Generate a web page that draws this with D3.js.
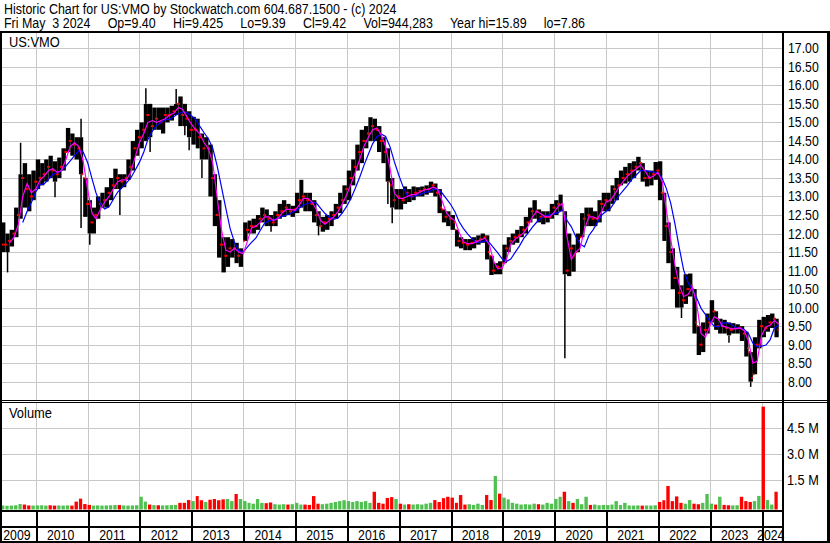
<!DOCTYPE html>
<html>
<head>
<meta charset="utf-8">
<script src="https://cdn.jsdelivr.net/npm/d3@7"></script>
<style>
body { margin: 0; background: #fff; }
svg { display: block; font-family: "Liberation Sans", Arial, sans-serif; }
</style>
</head>
<body>
<svg id="canvas" width="830" height="543"></svg>
<script>
// monthly bars, May 2009 .. Apr 2024 (bulk of the daily range)
let hi = [
    12.3, 12.0, 12.1, 12.7, 13.6, 13.9, 13.6, 13.7,
    14.0, 13.9, 14.0, 14.1, 13.95, 14.05, 14.3, 14.85, 14.7, 14.6, 14.6, 13.5,
    12.9, 12.7, 13.0, 13.1, 13.25, 13.5, 13.75, 13.6, 13.6, 14.0, 14.5, 14.8,
    15.0, 15.5, 15.5, 15.4, 15.4, 15.4, 15.4, 15.45, 15.5, 15.7, 15.5, 15.3,
    15.15, 15.1, 14.7, 14.6, 14.4, 13.6, 12.9, 11.9, 11.9, 11.85, 11.75, 11.6,
    12.3, 12.35, 12.4, 12.5, 12.7, 12.65, 12.5, 12.6, 12.8, 12.9, 12.8, 12.75,
    13.1, 13.45, 13.1, 13.1, 12.9, 12.6, 12.45, 12.5, 12.6, 12.8, 13.1, 13.3,
    13.7, 14.0, 14.4, 14.8, 14.9, 15.14, 15.1, 14.9, 14.6, 14.3, 13.5, 13.2,
    13.2, 13.27, 13.2, 13.27, 13.25, 13.27, 13.3, 13.4, 13.35, 13.2, 12.65, 12.6,
    12.5, 12.1, 11.9, 11.85, 11.85, 11.9, 11.95, 12.0, 11.95, 11.4, 11.2, 11.25,
    11.7, 11.9, 12.0, 12.1, 12.2, 12.45, 12.7, 12.9, 12.65, 12.6, 12.6, 12.8,
    12.9, 13.05, 12.6, 12.0, 11.7, 12.0, 12.55, 12.7, 12.7, 12.6, 12.9, 13.1,
    13.1, 13.3, 13.5, 13.7, 13.8, 13.9, 13.95, 14.07, 13.9, 13.7, 13.7, 13.93,
    13.95, 13.1, 12.3, 11.6, 11.1, 10.6, 10.9, 10.92, 10.5, 9.5, 9.6, 9.84,
    10.2, 9.9, 9.7, 9.67, 9.6, 9.58, 9.55, 9.5, 9.35, 8.8, 9.2, 9.67,
    9.75, 9.8, 9.84, 9.7
]
let lo = [
    11.5, 11.5, 11.65, 11.9, 12.4, 12.7, 12.6, 12.9,
    13.2, 13.3, 13.4, 13.5, 13.4, 13.5, 13.7, 14.2, 14.1, 14.0, 13.6, 12.45,
    12.0, 12.0, 12.4, 12.7, 12.7, 12.9, 13.2, 13.2, 13.25, 13.45, 13.7, 14.1,
    14.3, 14.5, 14.6, 14.8, 14.8, 14.7, 15.0, 15.05, 15.2, 14.9, 14.9, 14.6,
    14.4, 14.3, 14.0, 14.0, 13.0, 12.2, 11.35, 10.95, 11.1, 11.35, 11.2, 11.1,
    11.8, 12.0, 12.0, 12.1, 12.3, 12.2, 12.2, 12.2, 12.4, 12.45, 12.5, 12.45,
    12.55, 12.7, 12.6, 12.6, 12.3, 12.2, 12.05, 12.1, 12.2, 12.4, 12.55, 12.8,
    12.9, 13.3, 13.7, 13.9, 14.3, 14.5, 14.5, 14.2, 13.9, 13.4, 12.7, 12.65,
    12.65, 12.8, 12.85, 12.9, 13.0, 13.0, 13.05, 13.1, 13.0, 12.55, 12.3, 12.2,
    12.1, 11.65, 11.6, 11.55, 11.55, 11.6, 11.7, 11.75, 11.3, 10.88, 10.9, 10.9,
    11.2, 11.5, 11.7, 11.75, 11.9, 12.0, 12.3, 12.4, 12.3, 12.25, 12.3, 12.4,
    12.5, 12.6, 10.9, 10.85, 10.97, 11.5, 11.9, 12.2, 12.2, 12.2, 12.3, 12.6,
    12.6, 12.8, 12.9, 13.3, 13.35, 13.4, 13.5, 13.7, 13.4, 13.27, 13.3, 13.45,
    12.9, 11.8, 11.2, 10.5, 10.0, 10.0, 10.1, 10.3, 9.3, 8.72, 8.8, 9.3,
    9.6, 9.4, 9.3, 9.3, 9.25, 9.3, 9.3, 9.1, 8.68, 8.0, 8.2, 8.9,
    9.2, 9.35, 9.45, 9.2
]
let cl = [
    11.7, 11.8, 12.0, 12.5, 13.5, 13.2, 13.0, 13.4,
    13.5, 13.6, 13.8, 13.7, 13.6, 13.8, 14.2, 14.5, 14.4, 14.3, 13.6, 12.8,
    12.3, 12.5, 12.8, 12.9, 13.1, 13.3, 13.5, 13.4, 13.5, 13.8, 14.3, 14.6,
    14.8, 15.2, 14.9, 15.1, 15.0, 15.2, 15.2, 15.3, 15.5, 15.2, 15.1, 14.8,
    14.8, 14.6, 14.3, 14.3, 13.5, 12.5, 11.7, 11.4, 11.6, 11.6, 11.4, 11.5,
    12.1, 12.2, 12.2, 12.4, 12.5, 12.4, 12.3, 12.5, 12.6, 12.7, 12.6, 12.65,
    12.9, 13.0, 12.9, 12.8, 12.5, 12.2, 12.3, 12.4, 12.5, 12.7, 12.9, 13.2,
    13.5, 13.8, 14.2, 14.5, 14.7, 14.9, 14.8, 14.5, 14.2, 13.3, 12.9, 13.0,
    12.9, 13.1, 13.0, 13.1, 13.15, 13.2, 13.2, 13.3, 13.1, 12.7, 12.45, 12.4,
    12.3, 11.8, 11.75, 11.7, 11.75, 11.8, 11.85, 11.9, 11.5, 11.0, 11.1, 11.05,
    11.6, 11.8, 11.9, 11.95, 12.1, 12.3, 12.6, 12.6, 12.45, 12.45, 12.45, 12.7,
    12.8, 12.8, 11.0, 11.6, 11.4, 11.8, 12.4, 12.5, 12.4, 12.4, 12.8, 12.9,
    12.9, 13.2, 13.3, 13.5, 13.6, 13.7, 13.8, 13.9, 13.5, 13.5, 13.6, 13.7,
    13.1, 12.2, 11.5, 10.8, 10.4, 10.2, 10.5, 10.6, 9.6, 9.0, 9.4, 9.6,
    9.9, 9.5, 9.5, 9.45, 9.4, 9.45, 9.45, 9.3, 8.9, 8.1, 9.0, 9.5,
    9.45, 9.6, 9.7, 9.4
]
// single-day spikes outside the bulk range: month, extreme price
let spikes = [
    ['2009-06', 10.95], ['2009-09', 14.45], ['2010-05', 12.98], ['2010-11', 15.1],
    ['2010-11', 12.15], ['2011-01', 11.7], ['2011-08', 12.5], ['2012-02', 15.92],
    ['2012-03', 14.2], ['2012-09', 15.9], ['2012-11', 14.65], ['2012-12', 14.25],
    ['2013-03', 13.5], ['2014-07', 12.05], ['2015-06', 11.95], ['2016-10', 12.8],
    ['2016-11', 12.28], ['2020-03', 8.63], ['2022-06', 9.72], ['2023-05', 9.05],
    ['2023-10', 7.86]
]
// volume in millions, biggest day of each month
let vol = [
    0.05, 0.03, 0.04, 0.06, 0.13, 0.1, 0.05, 0.04,
    0.05, 0.06, 0.04, 0.06, 0.04, 0.05, 0.04, 0.05, 0.04, 0.27, 0.44, 0.13,
    0.08, 0.04, 0.05, 0.04, 0.05, 0.06, 0.07, 0.07, 0.05, 0.04, 0.05, 0.06,
    0.55, 0.27, 0.1, 0.07, 0.06, 0.05, 0.06, 0.07, 0.08, 0.2, 0.2, 0.36,
    0.3, 0.59, 0.35, 0.25, 0.38, 0.42, 0.35, 0.4, 0.42, 0.3, 0.71, 0.42,
    0.3, 0.2, 0.15, 0.42, 0.2, 0.18, 0.22, 0.12, 0.1, 0.12, 0.1, 0.12,
    0.2, 0.1, 0.1, 0.08, 0.59, 0.15, 0.12, 0.15, 0.2, 0.25, 0.3, 0.35,
    0.3, 0.25, 0.3, 0.25, 0.3, 0.2, 0.84, 0.2, 0.15, 0.48, 0.53, 0.42,
    0.15, 0.1, 0.12, 0.1, 0.12, 0.1, 0.15, 0.2, 0.36, 0.25, 0.47, 0.55,
    0.5, 0.2, 0.65, 0.1, 0.12, 0.08, 0.15, 0.08, 0.65, 0.36, 1.75, 0.73,
    0.5, 0.4, 0.2, 0.15, 0.1, 0.12, 0.1, 0.15, 0.12, 0.1, 0.2, 0.15,
    0.42, 0.55, 0.84, 0.3, 0.2, 0.42, 0.12, 0.55, 0.08, 0.1, 0.06, 0.08,
    0.07, 0.1, 0.3, 0.08, 0.2, 0.05, 0.04, 0.05, 0.04, 0.05, 0.04, 0.06,
    0.25, 0.35, 1.17, 0.3, 0.57, 0.2, 0.15, 0.36, 0.15, 0.12, 0.2, 0.71,
    0.15, 0.1, 0.55, 0.08, 0.06, 0.05, 0.06, 0.55, 0.3, 0.25, 0.3, 0.6,
    5.75, 0.36, 0.1, 0.84
]
let years = ['2009', '2010', '2011', '2012', '2013', '2014', '2015', '2016',
    '2017', '2018', '2019', '2020', '2021', '2022', '2023', '2024']
let priceTicks = [17, 16.5, 16, 15.5, 15, 14.5, 14, 13.5, 13, 12.5, 12, 11.5, 11, 10.5, 10, 9.5, 9, 8.5, 8]
let volTicks = [1.5, 3.0, 4.5]

let titleLine = 'Historic Chart for US:VMO by Stockwatch.com 604.687.1500 - (c) 2024'
let quoteLine = 'Fri May  3 2024     Op=9.40     Hi=9.425     Lo=9.39     Cl=9.42     Vol=944,283     Year hi=15.89     lo=7.86'

let months = d3.timeMonth.range(new Date(2009, 4, 1), new Date(2024, 4, 1))
let firstDay = new Date(2009, 4, 8)
let lastDay = new Date(2024, 4, 3)
let parseMonth = d3.timeParse('%Y-%m')

let svg = d3.select('#canvas')
let gridColor = '#c8c8c8'
let plotL = 2, plotR = 782, plotT = 33, plotB = 400
let volT = 403, volB = 509.5

let x = d3.scaleTime().domain([firstDay, lastDay]).range([2, 779])
let y = d3.scaleLinear().domain([8, 17]).range([381.7, 48.3])
let yv = d3.scaleLinear().domain([0, 4.5]).range([506.3, 428.3])

let bars = months.map((m, i) => {
    let start = m < firstDay ? firstDay : m
    return {
        month: m,
        x0: x(start),
        x1: x(d3.timeMonth.offset(m, 1)),
        end: d3.timeMonth.offset(m, 1),
        hi: hi[i], lo: lo[i], cl: cl[i], vol: vol[i],
        prev: i > 0 ? cl[i - 1] : cl[i]
    }
})

// narrow text like the original bitmap font
let label = (g, tx, ty, str, size, sx, anchor) => {
    g.append('text')
        .attr('xml:space', 'preserve')
        .attr('transform', 'translate(' + tx + ',' + ty + ') scale(' + sx + ',1)')
        .attr('font-size', size)
        .attr('text-anchor', anchor || 'start')
        .attr('fill', '#000')
        .text(str)
}

// header
label(svg, 4, 14, titleLine, 15, 0.83)
label(svg, 4, 28, quoteLine, 15, 0.83)

let yearStarts = years.map(yr => new Date(+yr, 0, 1))

// grid - price panel
let grid = svg.append('g').attr('shape-rendering', 'crispEdges')
grid.selectAll('.hgrid')
    .data(priceTicks)
    .enter()
    .append('line')
    .attr('x1', plotL).attr('x2', plotR)
    .attr('y1', d => Math.round(y(d)) + 0.5).attr('y2', d => Math.round(y(d)) + 0.5)
    .attr('stroke', gridColor)
grid.selectAll('.vgrid')
    .data(yearStarts.slice(1))
    .enter()
    .append('line')
    .attr('x1', d => Math.round(x(d)) + 0.5).attr('x2', d => Math.round(x(d)) + 0.5)
    .attr('y1', plotT).attr('y2', plotB)
    .attr('stroke', gridColor)

// grid - volume panel
grid.selectAll('.vhgrid')
    .data(volTicks)
    .enter()
    .append('line')
    .attr('x1', plotL).attr('x2', plotR)
    .attr('y1', d => Math.round(yv(d)) + 0.5).attr('y2', d => Math.round(yv(d)) + 0.5)
    .attr('stroke', gridColor)
grid.selectAll('.vvgrid')
    .data(yearStarts.slice(1))
    .enter()
    .append('line')
    .attr('x1', d => Math.round(x(d)) + 0.5).attr('x2', d => Math.round(x(d)) + 0.5)
    .attr('y1', volT).attr('y2', volB)
    .attr('stroke', gridColor)

svg.append('clipPath').attr('id', 'clipPrice')
    .append('rect').attr('x', plotL).attr('y', plotT).attr('width', plotR - plotL).attr('height', plotB - plotT)

let price = svg.append('g').attr('clip-path', 'url(#clipPrice)')

// hi-lo bars
price.selectAll('.bar')
    .data(bars)
    .enter()
    .append('rect')
    .attr('x', d => d.x0)
    .attr('width', d => d.x1 - d.x0)
    .attr('y', d => y(d.hi))
    .attr('height', d => Math.max(1.5, y(d.lo) - y(d.hi)))
    .attr('fill', '#000')

// thin spikes
let barOf = (key) => bars.find(b => +b.month === +parseMonth(key))
price.selectAll('.spike')
    .data(spikes)
    .enter()
    .append('line')
    .attr('x1', d => { let b = barOf(d[0]); return (b.x0 + b.x1) / 2 })
    .attr('x2', d => { let b = barOf(d[0]); return (b.x0 + b.x1) / 2 })
    .attr('y1', d => { let b = barOf(d[0]); return y(d[1] > b.hi ? b.hi : b.lo) })
    .attr('y2', d => y(d[1]))
    .attr('stroke', '#000')
    .attr('stroke-width', 1.5)

// red open / close ticks
let clampIn = (v, d) => Math.min(d.hi, Math.max(d.lo, v))
price.selectAll('.tickC')
    .data(bars)
    .enter()
    .append('rect')
    .attr('x', d => d.x1 - 1.5)
    .attr('y', d => y(clampIn(d.cl, d)) - 1)
    .attr('width', 1.5).attr('height', 2)
    .attr('fill', '#ff0000')
price.selectAll('.tickO')
    .data(bars)
    .enter()
    .append('rect')
    .attr('x', d => d.x0)
    .attr('y', d => y(clampIn(d.prev, d)) - 1)
    .attr('width', 1.5).attr('height', 2)
    .attr('fill', '#ff0000')

// moving averages of the monthly closes
let movingAvg = (n) => bars.map((d, i) => {
    if (i < n - 1) return null
    return { date: d.end, v: d3.mean(cl.slice(i - n + 1, i + 1)) }
}).filter(d => d !== null)

let line = d3.line().x(d => x(d.date)).y(d => y(d.v))

price.append('path')
    .attr('d', line(movingAvg(5)))
    .attr('fill', 'none')
    .attr('stroke', '#0000ff')
    .attr('stroke-width', 1.2)
price.append('path')
    .attr('d', line(movingAvg(2)))
    .attr('fill', 'none')
    .attr('stroke', '#ff00ff')
    .attr('stroke-width', 1.2)

// volume
svg.selectAll('.volbar')
    .data(bars)
    .enter()
    .append('rect')
    .attr('x', d => d.x0)
    .attr('width', d => Math.max(1, d.x1 - d.x0 - 1))
    .attr('y', d => yv(d.vol))
    .attr('height', d => volB - yv(d.vol))
    .attr('fill', d => d.cl >= d.prev ? '#50c050' : '#ff0000')

// frame lines
let frame = svg.append('g').attr('stroke', '#000').attr('shape-rendering', 'crispEdges')
frame.append('line').attr('x1', 0).attr('x2', 830).attr('y1', 32).attr('y2', 32).attr('stroke-width', 2)
frame.append('line').attr('x1', 1).attr('x2', 1).attr('y1', 31).attr('y2', 543).attr('stroke-width', 2)
frame.append('line').attr('x1', 828.5).attr('x2', 828.5).attr('y1', 31).attr('y2', 543).attr('stroke-width', 3)
frame.append('line').attr('x1', 782.5).attr('x2', 782.5).attr('y1', 31).attr('y2', 543).attr('stroke-width', 2)
frame.append('line').attr('x1', 0).attr('x2', 830).attr('y1', 400.5).attr('y2', 400.5).attr('stroke-width', 1.5)
frame.append('line').attr('x1', 0).attr('x2', 830).attr('y1', 402.5).attr('y2', 402.5).attr('stroke-width', 1.5)
frame.append('line').attr('x1', 0).attr('x2', 782).attr('y1', 510.5).attr('y2', 510.5).attr('stroke-width', 2)
frame.append('line').attr('x1', 0).attr('x2', 782).attr('y1', 527).attr('y2', 527).attr('stroke-width', 2)
frame.append('line').attr('x1', 0).attr('x2', 830).attr('y1', 542).attr('y2', 542).attr('stroke-width', 2)
frame.selectAll('.ydiv')
    .data(yearStarts.slice(1))
    .enter()
    .append('line')
    .attr('x1', d => Math.round(x(d)) + 0.5).attr('x2', d => Math.round(x(d)) + 0.5)
    .attr('y1', 510).attr('y2', 542)
    .attr('stroke-width', 2)

// year labels centred in their boxes
let axisText = svg.append('g')
years.forEach((yr, i) => {
    let a = Math.max(0, x(yearStarts[i]))
    let b = i < years.length - 1 ? x(yearStarts[i + 1]) : plotR
    label(axisText, (a + b) / 2 - 1, 540, yr, 15, 0.82, 'middle')
})

// price axis labels
priceTicks.forEach(p => {
    label(axisText, 788, y(p) + 5, p.toFixed(2), 15, 0.82)
})
volTicks.forEach(v => {
    label(axisText, 787, yv(v) + 5, v.toFixed(1) + ' M', 15, 0.85)
})

// panel captions
label(svg, 9, 47, 'US:VMO', 14, 0.92)
label(svg, 9, 418, 'Volume', 14, 0.92)
</script>
</body>
</html>
